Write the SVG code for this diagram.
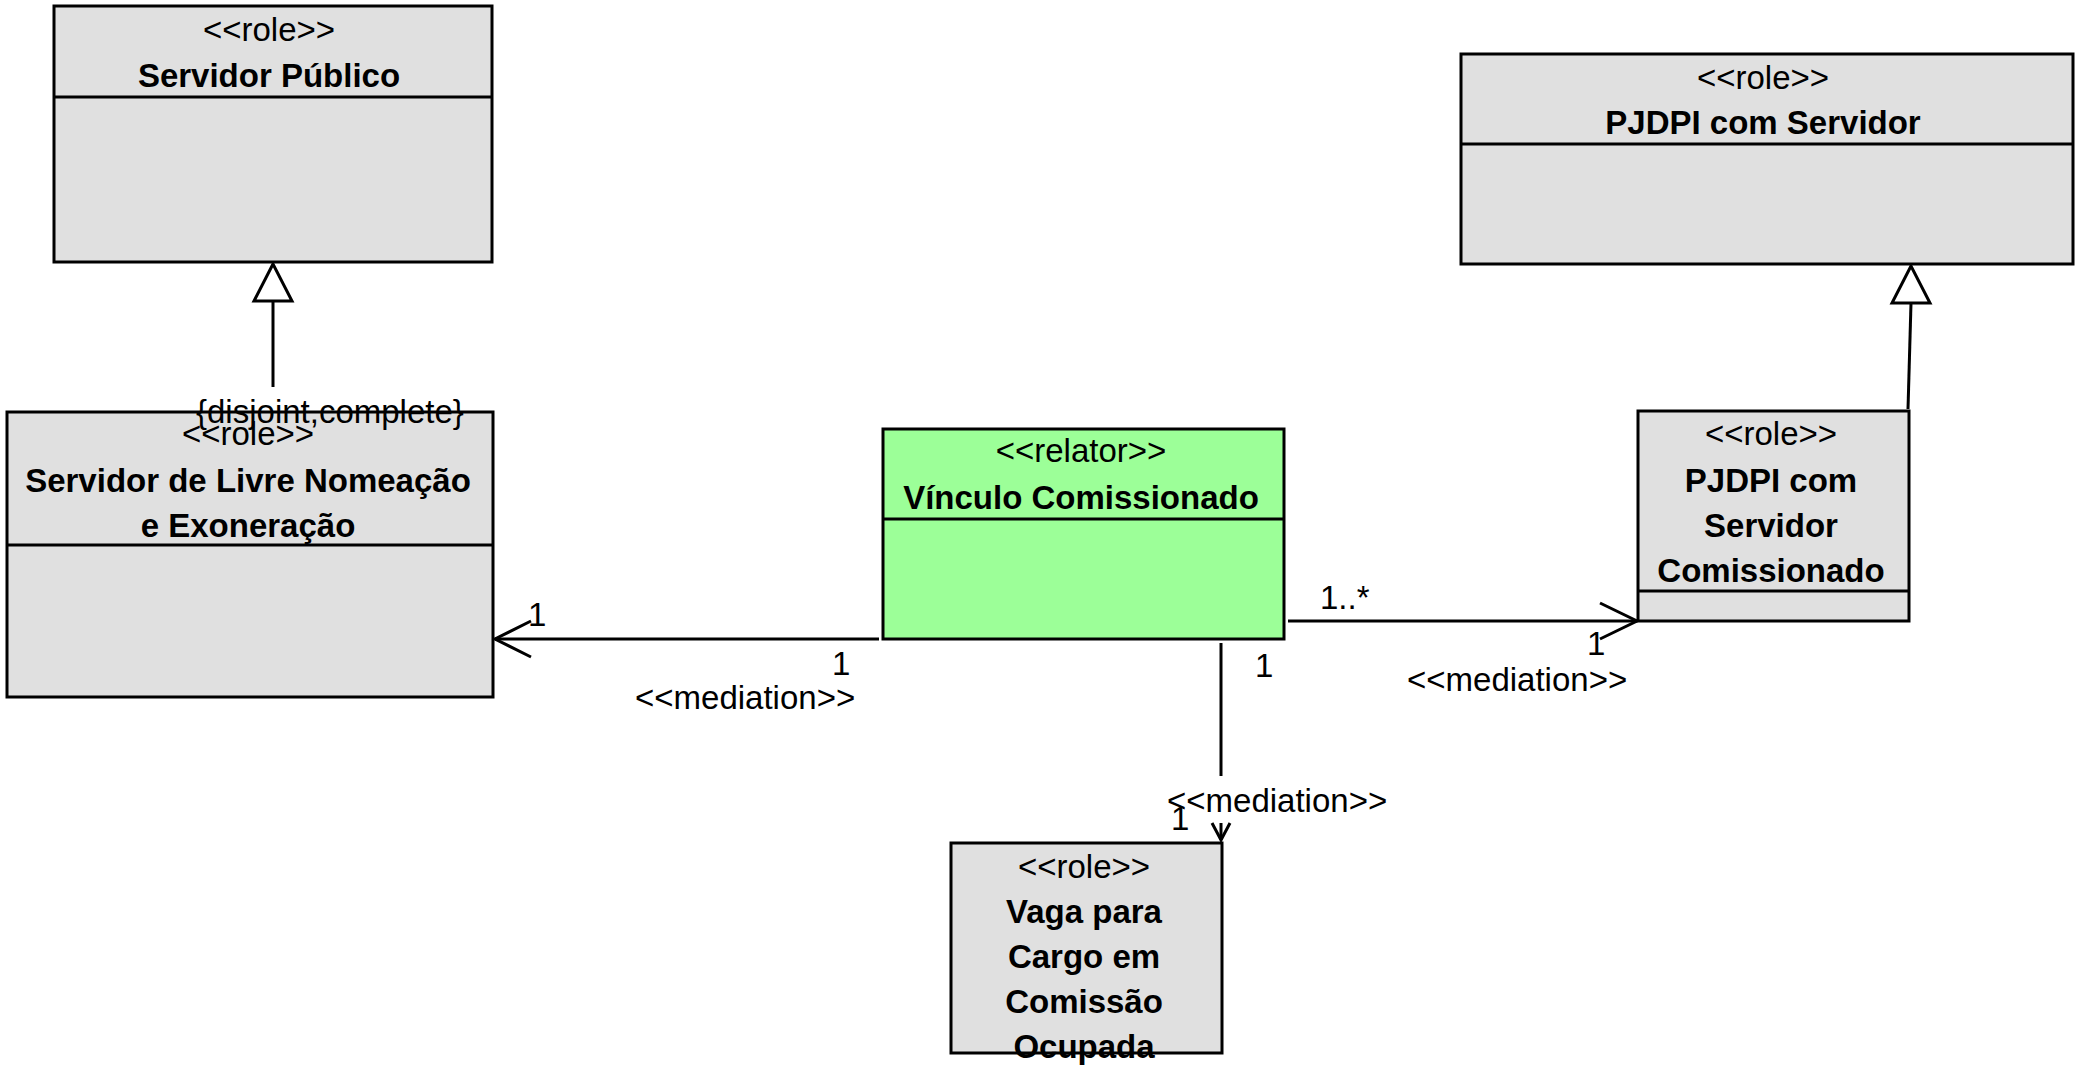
<svg xmlns="http://www.w3.org/2000/svg" width="2085" height="1065" viewBox="0 0 2085 1065">
<style>
.box{fill:#e0e0e0;stroke:#000;stroke-width:3}
.rel{fill:#9cff98;stroke:#000;stroke-width:3}
.div{stroke:#000;stroke-width:3}
.t{font-family:"Liberation Sans",Arial,Helvetica,sans-serif;font-size:33px;fill:#000}
.c{text-anchor:middle}
.b{font-weight:bold}
.ln{fill:none;stroke:#000;stroke-width:3}
.tri{fill:#fff;stroke:#000;stroke-width:3;stroke-linejoin:miter}
</style>
<rect width="2085" height="1065" fill="#fff"/>
<g id="servidor-publico">
<rect class="box" x="54" y="6" width="438" height="256"/>
<line class="div" x1="54" y1="97" x2="492" y2="97"/>
<text class="t c" x="269" y="41">&lt;&lt;role&gt;&gt;</text>
<text class="t c b" x="269" y="87">Servidor Público</text>
</g>
<g id="servidor-livre-nomeacao">
<rect class="box" x="7" y="412" width="486" height="285"/>
<line class="div" x1="7" y1="545" x2="493" y2="545"/>
<text class="t c" x="248" y="445">&lt;&lt;role&gt;&gt;</text>
<text class="t c b" x="248" y="492">Servidor de Livre Nomeação</text>
<text class="t c b" x="248" y="537">e Exoneração</text>
</g>
<g id="vinculo-comissionado">
<rect class="rel" x="883" y="429" width="401" height="210"/>
<line class="div" x1="883" y1="519" x2="1284" y2="519"/>
<text class="t c" x="1081" y="462">&lt;&lt;relator&gt;&gt;</text>
<text class="t c b" x="1081" y="509">Vínculo Comissionado</text>
</g>
<g id="pjdpi-com-servidor">
<rect class="box" x="1461" y="54" width="612" height="210"/>
<line class="div" x1="1461" y1="144" x2="2073" y2="144"/>
<text class="t c" x="1763" y="89">&lt;&lt;role&gt;&gt;</text>
<text class="t c b" x="1763" y="134">PJDPI com Servidor</text>
</g>
<g id="pjdpi-servidor-comissionado">
<rect class="box" x="1638" y="411" width="271" height="210"/>
<line class="div" x1="1638" y1="591" x2="1909" y2="591"/>
<text class="t c" x="1771" y="445">&lt;&lt;role&gt;&gt;</text>
<text class="t c b" x="1771" y="492">PJDPI com</text>
<text class="t c b" x="1771" y="537">Servidor</text>
<text class="t c b" x="1771" y="582">Comissionado</text>
</g>
<g id="vaga-cargo-comissao">
<rect class="box" x="951" y="843" width="271" height="210"/>
<text class="t c" x="1084" y="878">&lt;&lt;role&gt;&gt;</text>
<text class="t c b" x="1084" y="923">Vaga para</text>
<text class="t c b" x="1084" y="968">Cargo em</text>
<text class="t c b" x="1084" y="1013">Comissão</text>
<text class="t c b" x="1084" y="1058">Ocupada</text>
</g>
<g id="connectors">
<line class="ln" x1="273" y1="387" x2="273" y2="301"/>
<polygon class="tri" points="273,264 254,301 292,301"/>
<text class="t" x="196" y="423">{disjoint,complete}</text>
<line class="ln" x1="1908" y1="409" x2="1911" y2="303"/>
<polygon class="tri" points="1911,266 1892,303 1930,303"/>
<line class="ln" x1="495" y1="639" x2="879" y2="639"/>
<polyline class="ln" points="531,621 495,639 531,657"/>
<text class="t" x="528" y="626">1</text>
<text class="t" x="832" y="675">1</text>
<text class="t" x="635" y="709">&lt;&lt;mediation&gt;&gt;</text>
<line class="ln" x1="1288" y1="621" x2="1637" y2="621"/>
<polyline class="ln" points="1600,603 1637,621 1600,639"/>
<text class="t" x="1320" y="609">1..*</text>
<text class="t" x="1587" y="655">1</text>
<text class="t" x="1407" y="691">&lt;&lt;mediation&gt;&gt;</text>
<line class="ln" x1="1221" y1="643" x2="1221" y2="776"/>
<line class="ln" x1="1221" y1="823" x2="1221" y2="840"/>
<polyline class="ln" points="1212,823 1221,840 1230,823"/>
<text class="t" x="1255" y="677">1</text>
<text class="t" x="1167" y="812">&lt;&lt;mediation&gt;&gt;</text>
<text class="t" x="1171" y="830">1</text>
</g>
</svg>
